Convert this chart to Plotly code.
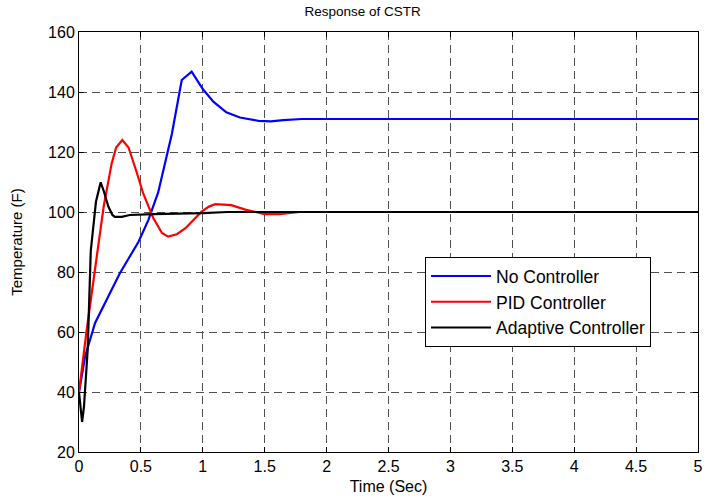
import plotly.graph_objects as go

# No Controller
t_no = [0, 0.05, 0.13, 0.2, 0.33, 0.48, 0.56, 0.64, 0.75, 0.83, 0.91, 1.0, 1.085, 1.19, 1.3, 1.45, 1.55, 1.65, 1.8, 2.0, 5.0]
y_no = [40, 52, 63, 69, 79.6, 90, 97.3, 106.6, 126, 144, 146.8, 141, 136.8, 133.2, 131.5, 130.4, 130.2, 130.6, 131, 131, 131]

# PID Controller
t_pid = [0, 0.06, 0.143, 0.2, 0.264, 0.3, 0.35, 0.4, 0.46, 0.52, 0.6, 0.67, 0.72, 0.79, 0.86, 0.92, 0.99, 1.05, 1.1, 1.23, 1.35, 1.5, 1.62, 1.78, 2.0, 5.0]
y_pid = [40, 60, 85, 102, 116.2, 121.5, 124, 121.5, 114, 106, 98, 93, 91.8, 92.6, 94.6, 97, 100.1, 101.8, 102.6, 102.3, 100.7, 99.3, 99.3, 100, 100, 100]

# Adaptive Controller
t_ad = [0, 0.025, 0.04, 0.07, 0.095, 0.137, 0.175, 0.2, 0.237, 0.27, 0.29, 0.345, 0.41, 0.6, 1.0, 1.2, 5.0]
y_ad = [40, 30, 35, 54, 87, 103.4, 109.9, 107, 101.8, 99, 98.4, 98.4, 99, 99.3, 99.6, 100, 100]

x_ticks = [0, 0.5, 1, 1.5, 2, 2.5, 3, 3.5, 4, 4.5, 5]
x_tick_text = ["0", "0.5", "1", "1.5", "2", "2.5", "3", "3.5", "4", "4.5", "5"]
y_ticks = [20, 40, 60, 80, 100, 120, 140, 160]

font_family = "Liberation Sans, Arial, sans-serif"

fig = go.Figure()
fig.add_trace(go.Scatter(x=t_no, y=y_no, mode="lines", name="No Controller",
                         line=dict(color="#0000ff", width=2.2)))
fig.add_trace(go.Scatter(x=t_pid, y=y_pid, mode="lines", name="PID Controller",
                         line=dict(color="#ff0000", width=2.2)))
fig.add_trace(go.Scatter(x=t_ad, y=y_ad, mode="lines", name="Adaptive Controller",
                         line=dict(color="#000000", width=2.2)))

axis_common = dict(
    showline=True, linecolor="black", linewidth=1, mirror="allticks",
    ticks="inside", ticklen=5, tickcolor="black",
    showgrid=True, gridcolor="#505050", gridwidth=1, griddash="8px,5px",
    zeroline=False, automargin=False,
    tickfont=dict(family=font_family, size=16, color="black"),
)

fig.update_xaxes(range=[0, 5], tickvals=x_ticks, ticktext=x_tick_text,
                 title=dict(text="Time (Sec)", font=dict(family=font_family, size=16, color="black"), standoff=6),
                 **axis_common)
fig.update_yaxes(range=[20, 160], tickvals=y_ticks,
                 title=dict(text="Temperature (F)", font=dict(family=font_family, size=15, color="black"), standoff=21),
                 **axis_common)

fig.update_layout(
    width=704, height=499,
    margin=dict(l=79, r=6, t=32, b=47),
    paper_bgcolor="white", plot_bgcolor="white",
    title=dict(text="Response of CSTR", x=0.515, xanchor="center", y=0.978, yanchor="middle",
               yref="container", font=dict(family=font_family, size=13.5, color="black")),
    legend=dict(x=0.559, y=0.464, xanchor="left", yanchor="top",
                bgcolor="white", bordercolor="black", borderwidth=1,
                font=dict(family=font_family, size=17.5, color="black"),
                tracegroupgap=0, itemwidth=60),
    showlegend=True,
)

fig.write_html("out.html", config={"displayModeBar": False},
               post_script="document.body.style.margin='0px';")
